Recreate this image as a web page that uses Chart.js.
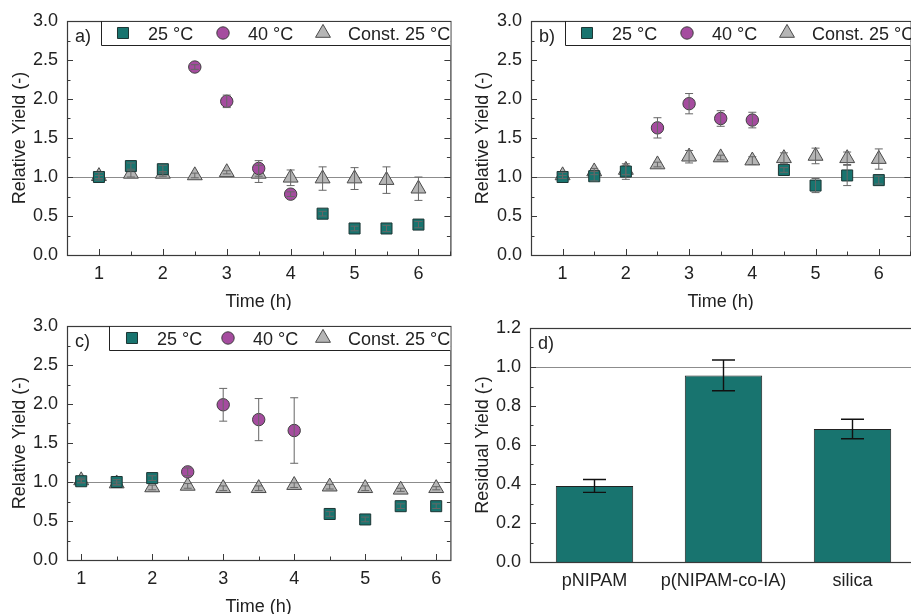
<!DOCTYPE html>
<html>
<head>
<meta charset="utf-8">
<title>Relative yield</title>
<script src="https://cdn.jsdelivr.net/npm/chart.js@4.4.1/dist/chart.umd.min.js"></script>
<style>
  html, body { margin: 0; padding: 0; background: #fff; overflow: hidden; }
  #wrap { position: relative; width: 911px; height: 614px; overflow: hidden; }
  canvas { position: absolute; }
</style>
</head>
<body>
<div id="wrap">
  <canvas id="panelA" width="460" height="310" style="left:0;top:0"></canvas>
  <canvas id="panelB" width="465" height="310" style="left:455px;top:0"></canvas>
  <canvas id="panelC" width="460" height="309" style="left:0;top:305px"></canvas>
  <canvas id="panelD" width="465" height="309" style="left:455px;top:305px"></canvas>
</div>
<script>
// time points (h)
const TIME_25 = [1, 1.5, 2, 4.5, 5, 5.5, 6];
const TIME_40 = [2.5, 3, 3.5, 4];
const TIME_CONST = [1, 1.5, 2, 2.5, 3, 3.5, 4, 4.5, 5, 5.5, 6];
const TIME_TICKS = [1, 2, 3, 4, 5, 6];
const REL_TICKS = [0, 0.5, 1, 1.5, 2, 2.5, 3];

// a)
const A_25 = [1.00, 1.14, 1.10, 0.53, 0.34, 0.34, 0.39];
const A_25_ERR = [0.02, 0.04, 0.05, 0.03, 0.03, 0.04, 0.04];
const A_40 = [2.41, 1.97, 1.11, 0.78];
const A_40_ERR = [0.03, 0.08, 0.10, 0.03];
const A_CONST = [1.01, 1.04, 1.04, 1.02, 1.06, 1.04, 0.99, 0.98, 0.98, 0.96, 0.85];
const A_CONST_ERR = [0.05, 0.04, 0.03, 0.03, 0.02, 0.11, 0.10, 0.15, 0.14, 0.17, 0.15];

// b)
const B_25 = [1.00, 1.01, 1.07, 1.09, 0.89, 1.02, 0.96];
const B_25_ERR = [0.02, 0.06, 0.10, 0.03, 0.09, 0.13, 0.05];
const B_40 = [1.63, 1.94, 1.75, 1.73];
const B_40_ERR = [0.13, 0.13, 0.10, 0.10];
const B_CONST = [1.02, 1.07, 1.09, 1.16, 1.26, 1.25, 1.21, 1.24, 1.27, 1.24, 1.23];
const B_CONST_ERR = [0.04, 0.04, 0.06, 0.03, 0.08, 0.03, 0.05, 0.07, 0.10, 0.08, 0.13];

// c)
const C_25 = [1.01, 1.00, 1.05, 0.59, 0.52, 0.69, 0.69];
const C_25_ERR = [0.02, 0.03, 0.03, 0.03, 0.03, 0.03, 0.03];
const C_40 = [1.13, 1.99, 1.80, 1.66];
const C_40_ERR = [0.05, 0.21, 0.27, 0.42];
const C_CONST = [1.02, 0.98, 0.93, 0.95, 0.92, 0.92, 0.96, 0.94, 0.92, 0.90, 0.92];
const C_CONST_ERR = [0.03, 0.02, 0.03, 0.03, 0.03, 0.03, 0.03, 0.03, 0.03, 0.02, 0.02];

// d)
const CARRIERS = ['pNIPAM', 'p(NIPAM-co-IA)', 'silica'];
const RESIDUAL = [0.39, 0.957, 0.682];
const RESIDUAL_ERR = [0.033, 0.079, 0.05];
const RES_TICKS = [0, 0.2, 0.4, 0.6, 0.8, 1.0, 1.2];

const FONT = "'Liberation Sans', Arial, sans-serif";
const TEXT = '#222';
const TEAL = '#18746f';
const PURPLE = '#a54c9f';
const GREY = '#b5b5b5';

function drawMarker(ctx, style, r, x, y, fill, stroke) {
  ctx.beginPath();
  if (style === 'rect') {
    const s = r * Math.SQRT1_2;
    ctx.rect(x - s, y - s, 2 * s, 2 * s);
  } else if (style === 'triangle') {
    ctx.moveTo(x, y - r);
    ctx.lineTo(x + r * 0.866, y + r / 2);
    ctx.lineTo(x - r * 0.866, y + r / 2);
    ctx.closePath();
  } else {
    ctx.arc(x, y, r, 0, Math.PI * 2);
  }
  ctx.fillStyle = fill;
  ctx.fill();
  ctx.strokeStyle = stroke;
  ctx.lineWidth = 1;
  ctx.stroke();
}

// reference line, error bars, inward ticks, frame, legend and panel tag
const panelDecor = {
  id: 'panelDecor',
  beforeDatasetsDraw(chart, args, o) {
    const { ctx, chartArea: a, scales: { y } } = chart;
    const py = Math.round(y.getPixelForValue(o.refLine)) + 0.5;
    ctx.save();
    ctx.strokeStyle = '#8c8c8c';
    ctx.lineWidth = 1;
    ctx.beginPath();
    ctx.moveTo(a.left, py);
    ctx.lineTo(a.right, py);
    ctx.stroke();
    ctx.restore();
  },
  afterDatasetsDraw(chart, args, o) {
    const { ctx, chartArea: a, scales: { x, y } } = chart;
    ctx.save();

    chart.data.datasets.forEach((ds, di) => {
      if (!ds.errors) return;
      const meta = chart.getDatasetMeta(di);
      ctx.strokeStyle = o.errColor;
      ctx.lineWidth = o.errWidth;
      meta.data.forEach((el, i) => {
        const d = ds.data[i];
        const val = typeof d === 'object' ? d.y : d;
        const top = y.getPixelForValue(val + ds.errors[i]);
        const bot = y.getPixelForValue(val - ds.errors[i]);
        ctx.beginPath();
        ctx.moveTo(el.x, top); ctx.lineTo(el.x, bot);
        ctx.moveTo(el.x - o.cap, top); ctx.lineTo(el.x + o.cap, top);
        ctx.moveTo(el.x - o.cap, bot); ctx.lineTo(el.x + o.cap, bot);
        ctx.stroke();
      });
    });

    ctx.strokeStyle = '#3a3a3a';
    ctx.lineWidth = 1;
    const seg = (x1, y1, x2, y2) => { ctx.beginPath(); ctx.moveTo(x1, y1); ctx.lineTo(x2, y2); ctx.stroke(); };

    // y ticks, left and right, pointing inwards
    const ySteps = Math.round((y.max - y.min) / o.yMinor);
    for (let k = 0; k <= ySteps; k++) {
      const v = y.min + k * o.yMinor;
      const major = Math.abs(v / o.yMajor - Math.round(v / o.yMajor)) < 1e-6;
      const len = major ? 6 : 3.5;
      const py = Math.round(y.getPixelForValue(v)) + 0.5;
      seg(a.left, py, a.left + len, py);
      seg(a.right, py, a.right - len, py);
    }
    // x ticks on the bottom axis
    if (o.xMinor) {
      const start = Math.ceil(x.min / o.xMinor);
      const end = Math.floor(x.max / o.xMinor);
      for (let k = start; k <= end; k++) {
        const v = k * o.xMinor;
        const major = Math.abs(v - Math.round(v)) < 1e-6;
        const px = Math.round(x.getPixelForValue(v)) + 0.5;
        seg(px, a.bottom, px, a.bottom - (major ? 6 : 3.5));
      }
    }

    // frame
    ctx.strokeStyle = '#3a3a3a';
    ctx.lineWidth = 1.2;
    ctx.strokeRect(a.left + 0.5, a.top + 0.5, a.right - a.left, a.bottom - a.top);

    ctx.fillStyle = TEXT;
    ctx.font = '18px ' + FONT;
    ctx.textBaseline = 'alphabetic';
    ctx.textAlign = 'left';
    ctx.fillText(o.tag, a.left + 8, a.top + 21);

    if (o.legend) {
      const L = o.legend;
      const bx = a.left + L.box;
      ctx.fillStyle = '#fff';
      ctx.fillRect(bx, a.top + 1, a.right - bx, 24);
      ctx.strokeStyle = '#222';
      ctx.lineWidth = 1;
      ctx.beginPath();
      ctx.moveTo(bx + 0.5, a.top);
      ctx.lineTo(bx + 0.5, a.top + 24.5);
      ctx.lineTo(a.right, a.top + 24.5);
      ctx.stroke();
      chart.data.datasets.forEach((ds, i) => {
        const mx = a.left + L.items[i];
        drawMarker(ctx, ds.pointStyle, ds.pointRadius, mx, a.top + 12, ds.backgroundColor, ds.borderColor);
        ctx.fillStyle = TEXT;
        ctx.fillText(ds.label, mx + 25, a.top + 19);
      });
    }
    ctx.restore();
  }
};

function relPanel(id, p) {
  const pts = (xs, ys) => xs.map((t, i) => ({ x: t, y: ys[i] }));
  return new Chart(document.getElementById(id), {
    type: 'scatter',
    data: {
      datasets: [
        { label: '25 °C', data: pts(TIME_25, p.s25), errors: p.e25, order: 1,
          pointStyle: 'rect', pointRadius: 7.8, backgroundColor: TEAL, borderColor: '#1d3634', borderWidth: 1 },
        { label: '40 °C', data: pts(TIME_40, p.s40), errors: p.e40, order: 0,
          pointStyle: 'circle', pointRadius: 6.2, backgroundColor: PURPLE, borderColor: '#3f3f3f', borderWidth: 1 },
        { label: 'Const. 25 °C', data: pts(TIME_CONST, p.sc), errors: p.ec, order: 2,
          pointStyle: 'triangle', pointRadius: 8.6, backgroundColor: GREY, borderColor: '#4a4a4a', borderWidth: 1 }
      ]
    },
    plugins: [panelDecor],
    options: {
      responsive: false,
      animation: false,
      events: [],
      layout: { padding: { top: p.padTop, right: p.padRight, left: 0, bottom: 0 } },
      plugins: {
        legend: { display: false },
        tooltip: { enabled: false },
        panelDecor: {
          tag: p.tag, refLine: 1, yMajor: 0.5, yMinor: 0.25, xMinor: 0.5,
          errColor: '#666', errWidth: 1, cap: 4, legend: p.legend
        }
      },
      scales: {
        x: {
          type: 'linear', min: p.xMin, max: p.xMax,
          afterBuildTicks: s => { s.ticks = TIME_TICKS.map(v => ({ value: v })); },
          afterFit: s => { s.height = p.xH; },
          grid: { display: false, drawTicks: false }, border: { display: false },
          ticks: { padding: 8, color: TEXT, font: { family: FONT, size: 18 } },
          title: { display: true, text: 'Time (h)', color: TEXT,
                   font: { family: FONT, size: 18, lineHeight: 1 }, padding: { top: 0, bottom: p.xTitlePad } }
        },
        y: {
          min: 0, max: 3,
          afterBuildTicks: s => { s.ticks = REL_TICKS.map(v => ({ value: v })); },
          afterFit: s => { s.width = p.yW; },
          grid: { display: false, drawTicks: false }, border: { display: false },
          ticks: { padding: 9, color: TEXT, font: { family: FONT, size: 18 }, callback: v => v.toFixed(1) },
          title: { display: true, text: 'Relative Yield (-)', color: TEXT,
                   font: { family: FONT, size: 18, lineHeight: 1 }, padding: { top: p.yTitlePad, bottom: 0 } }
        }
      }
    }
  });
}

relPanel('panelA', {
  tag: 'a)', s25: A_25, e25: A_25_ERR, s40: A_40, e40: A_40_ERR, sc: A_CONST, ec: A_CONST_ERR,
  xMin: 0.5, xMax: 6.5, yW: 67, xH: 55, padTop: 21, padRight: 7, yTitlePad: 11, xTitlePad: -1,
  legend: { box: 34, items: [56, 156, 256] }
});
relPanel('panelB', {
  tag: 'b)', s25: B_25, e25: B_25_ERR, s40: B_40, e40: B_40_ERR, sc: B_CONST, ec: B_CONST_ERR,
  xMin: 0.5, xMax: 6.5, yW: 76, xH: 55, padTop: 21, padRight: 3, yTitlePad: 19, xTitlePad: -1,
  legend: { box: 34, items: [56, 156, 256] }
});
relPanel('panelC', {
  tag: 'c)', s25: C_25, e25: C_25_ERR, s40: C_40, e40: C_40_ERR, sc: C_CONST, ec: C_CONST_ERR,
  xMin: 0.8, xMax: 6.2, yW: 67, xH: 54, padTop: 21, padRight: 7, yTitlePad: 11, xTitlePad: -2,
  legend: { box: 42, items: [65, 161, 256] }
});

new Chart(document.getElementById('panelD'), {
  type: 'bar',
  data: {
    labels: CARRIERS,
    datasets: [{
      label: 'Residual Yield',
      data: RESIDUAL,
      errors: RESIDUAL_ERR,
      backgroundColor: TEAL,
      borderColor: '#222',
      borderWidth: 1,
      barPercentage: 0.6,
      categoryPercentage: 1
    }]
  },
  plugins: [panelDecor],
  options: {
    responsive: false,
    animation: false,
    events: [],
    layout: { padding: { top: 23, right: 3, left: 0, bottom: 0 } },
    plugins: {
      legend: { display: false },
      tooltip: { enabled: false },
      panelDecor: { tag: 'd)', refLine: 1, yMajor: 0.2, yMinor: 0.1, xMinor: null,
                    errColor: '#111', errWidth: 1.4, cap: 11.5, legend: null }
    },
    scales: {
      x: {
        afterFit: s => { s.height = 52; },
        grid: { display: false, drawTicks: false }, border: { display: false },
        ticks: { padding: 8, color: TEXT, font: { family: FONT, size: 18 },
                 maxRotation: 0, minRotation: 0, autoSkip: false }
      },
      y: {
        min: 0, max: 1.2,
        afterBuildTicks: s => { s.ticks = RES_TICKS.map(v => ({ value: v })); },
        afterFit: s => { s.width = 75; },
        grid: { display: false, drawTicks: false }, border: { display: false },
        ticks: { padding: 9, color: TEXT, font: { family: FONT, size: 18 }, callback: v => v.toFixed(1) },
        title: { display: true, text: 'Residual Yield (-)', color: TEXT,
                 font: { family: FONT, size: 18, lineHeight: 1 }, padding: { top: 19, bottom: 0 } }
      }
    }
  }
});
</script>
</body>
</html>
